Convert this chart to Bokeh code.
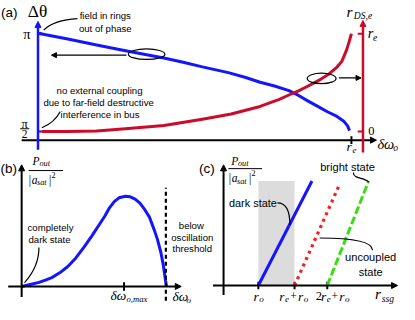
import numpy as np
from bokeh.plotting import figure
from bokeh.models import Range1d, Arrow, NormalHead
from bokeh.core.properties import value
from bokeh.embed import file_html
from bokeh.resources import INLINE

# ---------------- data ----------------
# (a) phase difference between the rings (units of pi) vs detuning (units of r_e)
a_detuning_phase = [0.0, 0.0951, 0.1871, 0.2791, 0.3466, 0.4018, 0.4632, 0.5245, 0.6074, 0.6626,
                    0.7086, 0.7546, 0.8006, 0.8313, 0.8620, 0.8926, 0.9233, 0.9540, 0.9755, 0.9877, 0.9939]
a_phase_over_pi = [1.0, 0.971, 0.940, 0.911, 0.891, 0.874, 0.853, 0.829, 0.800, 0.775,
                   0.751, 0.732, 0.708, 0.684, 0.655, 0.628, 0.601, 0.577, 0.553, 0.529, 0.505]
# (a) dark-state radius r_DS,e (units of r_e) vs detuning
a_detuning_radius = [0.0123, 0.0951, 0.1871, 0.2791, 0.4018, 0.5245, 0.6166, 0.7086, 0.7699, 0.8006,
                     0.8313, 0.8620, 0.9018, 0.9294, 0.9540, 0.9693, 0.9847, 0.9939, 1.0]
a_radius = [0.0, 0.0, 0.005, 0.029, 0.063, 0.126, 0.180, 0.257, 0.330, 0.374,
            0.417, 0.466, 0.534, 0.592, 0.660, 0.718, 0.835, 0.932, 1.0]
a_phase_ticks = [0.5, 1.0]          # pi/2, pi
a_radius_ticks = [0.0, 1.0]         # 0, r_e
a_radius_tick_labels = ["0", "r_e"]
a_detuning_ticks = [1.0]            # r_e

# (b) output power vs detuning
b_detuning = [0.0, 0.075, 0.12, 0.165, 0.209, 0.264, 0.32, 0.376, 0.431, 0.487, 0.542, 0.575, 0.609,
              0.642, 0.675, 0.72, 0.753, 0.787, 0.82, 0.853, 0.887, 0.92, 0.942, 0.965, 0.982, 0.998, 1.005]
b_power = [0.0, 0.028, 0.045, 0.070, 0.098, 0.151, 0.221, 0.316, 0.432, 0.561, 0.695, 0.775, 0.871,
           0.940, 0.982, 1.0, 0.993, 0.968, 0.923, 0.853, 0.765, 0.624, 0.519, 0.379, 0.239, 0.063, 0.0]
b_detuning_max = 0.71
b_threshold = 1.0

# (c) output power vs r_ssg (r_o = 1)
c_ticks = [1.0, 2.04, 2.98]         # r_o, r_e + r_o, 2r_e + r_o
c_dark_r = [1.0, 2.54]
c_dark_p = [0.0, 1.0]
c_uncoupled_r = [2.04, 3.34]
c_uncoupled_p = [0.0, 0.973]
c_bright_r = [2.98, 4.17]
c_bright_p = [0.0, 1.0]
c_shade_left, c_shade_right, c_shade_top = 1.0, 2.04, 1.0

# ---------------- layout ----------------
RW, RH = 415, 320
W, H = 399, 304
FS = W / RW

BLUE = "#1414ff"
RED = "#cc0a2a"
RED2 = "#ff1a1a"
GREEN = "#3cdc14"
GRAY = "#dcdcdc"
SANS = "Liberation Sans"
SERIF = "Liberation Serif"


class Map:
    def __init__(self, ox, sx, oy, sy):
        self.ox, self.sx, self.oy, self.sy = ox, sx, oy, sy

    def x(self, X):
        return (X - self.ox) / self.sx

    def y(self, Y):
        return (self.oy - Y) / self.sy

    def X(self, x):
        return self.ox + self.sx * x

    def Y(self, y):
        return self.oy - self.sy * y

    def xr(self):
        return Range1d(self.x(0), self.x(RW))

    def yr(self):
        return Range1d(self.y(RH), self.y(0))


A = Map(39, 326, 241.5, 207)
AR = Map(39, 326, 138, 103)
B = Map(22, 150, 301, 95)
C = Map(232, 36.2, 300, 110)

p = figure(width=W, height=H, x_range=A.xr(), y_range=A.yr(),
           x_axis_type=None, y_axis_type=None, output_backend="svg",
           toolbar_location=None, min_border=0, outline_line_color=None)
p.extra_x_ranges = {"b": B.xr(), "c": C.xr(), "px": Range1d(0, RW)}
p.extra_y_ranges = {"r": AR.yr(), "b": B.yr(), "c": C.yr(), "py": Range1d(RH, 0)}
p.background_fill_color = "white"
p.border_fill_color = "white"


def txt(X, Y, s, size, font=SANS, style="normal", align="center", color="black"):
    p.text(x=[X], y=[Y], text=[s], x_range_name="px", y_range_name="py",
           text_font=value(font), text_font_size=f"{size * FS:.1f}px",
           text_font_style=style, text_align=align, text_baseline="middle",
           text_color=color)


def mi(X, Y, s, size):
    txt(X, Y, s, size, font=SERIF, style="italic", align="left")


def mu(X, Y, s, size):
    txt(X, Y, s, size, font=SERIF, style="normal", align="left")


def arrow(x0, y0, x1, y1, color, lw, xr="default", yr="default", size=6):
    p.add_layout(Arrow(end=NormalHead(size=size, fill_color=color, line_color=color, line_width=1),
                       x_start=x0, y_start=y0, x_end=x1, y_end=y1,
                       line_color=color, line_width=lw,
                       x_range_name=xr, y_range_name=yr))


def seg(X0, Y0, X1, Y1, lw=1.0, color="black"):
    p.segment(x0=[X0], y0=[Y0], x1=[X1], y1=[Y1], x_range_name="px", y_range_name="py",
              line_color=color, line_width=lw)


def bez(p0, c0, c1, p1, lw=1.2):
    p.bezier(x0=[p0[0]], y0=[p0[1]], x1=[p1[0]], y1=[p1[1]],
             cx0=[c0[0]], cy0=[c0[1]], cx1=[c1[0]], cy1=[c1[1]],
             x_range_name="px", y_range_name="py", line_color="black", line_width=lw)


def ell(X, Y, w, h):
    p.ellipse(x=[X], y=[Y], width=[w * FS], height=[h * 0.95], width_units="screen",
              height_units="screen", x_range_name="px", y_range_name="py",
              fill_color=None, line_color="black", line_width=1.2)


# ================= panel (a) =================
p.line(a_detuning_phase, a_phase_over_pi, line_color=BLUE, line_width=3, line_join="round")
p.line(a_detuning_radius, a_radius, y_range_name="r", line_color=RED, line_width=3, line_join="round")
# small blue ticks on the phase axis
p.segment(x0=[0.0] * len(a_phase_ticks), x1=[A.x(43)] * len(a_phase_ticks),
          y0=a_phase_ticks, y1=a_phase_ticks, line_color=BLUE, line_width=2)
# axes
arrow(A.x(22), A.y(147), A.x(391), A.y(147), "black", 2)
arrow(0.0, A.y(157), 0.0, A.y(22), BLUE, 2.5)
arrow(A.x(377), AR.y(160), A.x(377), AR.y(21), RED, 2.5, yr="r")
p.segment(x0=[A.x(371.5)] * 2, x1=[A.x(377)] * 2, y0=a_radius_ticks, y1=a_radius_ticks,
          y_range_name="r", line_color=RED, line_width=2)
p.segment(x0=a_detuning_ticks, x1=a_detuning_ticks, y0=[A.y(143)], y1=[A.y(151)],
          line_color="black", line_width=2)

txt(0.5, 12.5, "(a)", 14, align="left")
txt(38.5, 12, "Δθ", 18, font=SERIF)
# phase tick labels
txt(27.5, A.Y(a_phase_ticks[1]) + 0.5, "π", 15, font=SERIF)
Yh = A.Y(a_phase_ticks[0])
txt(25, Yh - 8.5, "π", 13, font=SERIF)
seg(20.5, Yh - 3, 30, Yh - 3, 1.0)
txt(25, Yh + 2.5, "2", 12, font=SERIF)
# right axis labels
mi(360, 12, "r", 16)
mi(367.5, 16, "DS,e", 10)
Ye = AR.Y(a_radius_ticks[1])
mi(382, Ye - 1, "r", 15)
mi(387.5, Ye + 3.5, "e", 10)
mu(382.5, AR.Y(a_radius_ticks[0]) - 1, a_radius_tick_labels[0], 13)
# x labels
Xt = A.X(a_detuning_ticks[0])
mi(Xt - 5, 153.5, "r", 14)
mi(Xt + 1, 157.5, "e", 9.5)
mi(392, 151, "δω", 15)
mi(408.5, 155, "o", 10)
# callouts
ell(152, 56.5, 38, 11)
arrow(131, 57.5, 53, 57.5, "black", 1.2, xr="px", yr="py", size=5)
ell(334, 82, 30, 11)
arrow(352, 81.5, 375, 81.5, "black", 1.2, xr="px", yr="py", size=5)
txt(109, 16, "field in rings", 10)
txt(109, 29, "out of phase", 10)
bez((45, 31), (52, 24), (62, 20), (80, 19))
txt(103, 95, "no external coupling", 10)
txt(102, 107.5, "due to far-field destructive", 10)
txt(103.5, 119.5, "interference in bus", 10)
bez((43, 134), (52, 130), (58, 125), (62, 117))

# ================= panel (b) =================
arrow(0.0, B.y(312), 0.0, B.y(173), "black", 2, xr="b", yr="b")
arrow(B.x(8), 0.0, B.x(188), 0.0, "black", 2, xr="b", yr="b")
p.line(b_detuning, b_power, x_range_name="b", y_range_name="b", line_color=BLUE, line_width=3,
       line_join="round")
p.segment(x0=[b_threshold], x1=[b_threshold], y0=[B.y(316)], y1=[B.y(197)],
          x_range_name="b", y_range_name="b", line_color="black", line_width=2.2, line_dash="4 3")
p.segment(x0=[b_detuning_max], x1=[b_detuning_max], y0=[B.y(305.5)], y1=[B.y(296.5)],
          x_range_name="b", y_range_name="b", line_color="black", line_width=2)

txt(0, 177, "(b)", 14, align="left")
mi(33.3, 169, "P", 12)
mi(40.5, 172, "out", 8.5)
seg(29.3, 179, 65, 179, 1.0)
mu(29.5, 188.5, "|", 12)
mi(32.5, 189, "a", 12)
mi(38, 192, "sat", 8.5)
mu(50.5, 188.5, "|", 12)
mu(53, 184, "2", 8.5)
Xm = B.X(b_detuning_max)
mi(Xm - 14, 311, "δω", 14)
mi(Xm + 2.5, 314.5, "o,max", 9)
mi(179, 312, "δω", 14)
mi(193.5, 315.5, "o", 9.5)
txt(52, 239, "completely", 10)
txt(51, 251.5, "dark state", 10)
bez((25, 297), (33, 288), (40, 276), (40, 260))
txt(198.5, 237, "below", 10)
txt(199.5, 249, "oscillation", 10)
txt(199.5, 261, "threshold", 10)

# ================= panel (c) =================
p.quad(left=[c_shade_left], right=[c_shade_right], bottom=[0.0], top=[c_shade_top],
       x_range_name="c", y_range_name="c", fill_color=GRAY, line_color=None)
arrow(0.0, C.y(310), 0.0, C.y(173), "black", 2, xr="c", yr="c")
arrow(C.x(221), 0.0, C.x(413), 0.0, "black", 2, xr="c", yr="c")
p.segment(x0=c_ticks, x1=c_ticks, y0=[C.y(304)] * 3, y1=[C.y(296)] * 3,
          x_range_name="c", y_range_name="c", line_color="black", line_width=2)
p.line(c_dark_r, c_dark_p, x_range_name="c", y_range_name="c", line_color=BLUE, line_width=3)
p.line(c_uncoupled_r, c_uncoupled_p, x_range_name="c", y_range_name="c",
       line_color=RED2, line_width=3.2, line_dash="3 4")
p.line(c_bright_r, c_bright_p, x_range_name="c", y_range_name="c",
       line_color=GREEN, line_width=3, line_dash="8 3")

txt(206.5, 177, "(c)", 14, align="left")
mi(240, 169, "P", 12)
mi(247, 172, "out", 8.5)
seg(237, 177, 272, 177, 1.0)
mu(237.5, 186.5, "|", 12)
mi(240.5, 187, "a", 12)
mi(246, 190, "sat", 8.5)
mu(258.5, 186.5, "|", 12)
mu(261, 182, "2", 8.5)
# tick labels
X1, X2, X3 = (C.X(v) for v in c_ticks)
mi(X1 - 5, 311.5, "r", 14)
mi(X1 + 1, 314.5, "o", 9.5)
mi(X2 - 16, 311.5, "r", 14)
mi(X2 - 10, 314.5, "e", 9.5)
mu(X2 - 4.5, 311.5, "+", 12)
mi(X2 + 3.5, 311.5, "r", 14)
mi(X2 + 9.5, 314.5, "o", 9.5)
mu(X3 - 12, 311.5, "2", 13)
mi(X3 - 6.5, 311.5, "r", 14)
mi(X3 - 0.5, 314.5, "e", 9.5)
mu(X3 + 4.5, 311.5, "+", 12)
mi(X3 + 12.5, 311.5, "r", 14)
mi(X3 + 18.5, 314.5, "o", 9.5)
mi(389.5, 308.5, "r", 16)
mi(396.5, 314, "ssg", 10)
# callouts
txt(262.5, 213, "dark state", 11.3)
bez((288, 213), (296, 213), (301, 220), (301, 236))
txt(361, 175, "bright state", 11.5)
bez((367, 181), (367, 188), (378, 186), (383, 191))
txt(385, 270, "uncoupled", 11.5)
txt(385, 285.5, "state", 11.5)
bez((332, 250), (370, 250), (387, 255), (387, 263))

open("out.html", "w").write(file_html(p, INLINE))
